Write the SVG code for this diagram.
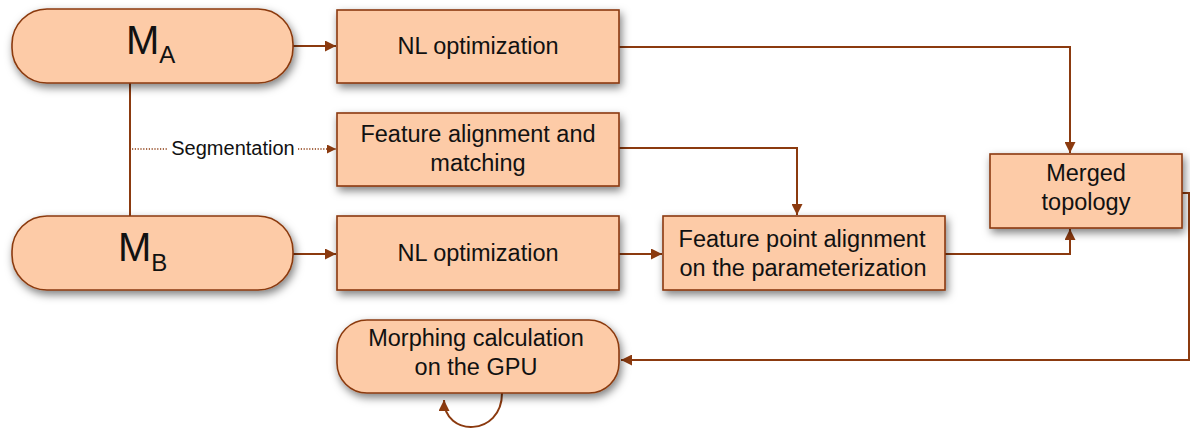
<svg xmlns="http://www.w3.org/2000/svg" width="1190" height="432" viewBox="0 0 1190 432">
<defs>
<filter id="sh" x="-10%" y="-20%" width="125%" height="150%">
<feDropShadow dx="2" dy="4" stdDeviation="4.5" flood-color="#000" flood-opacity="0.5"/>
</filter>
<marker id="ah" markerUnits="userSpaceOnUse" markerWidth="11" markerHeight="11" refX="10" refY="5" orient="auto" viewBox="0 0 10 10">
<path d="M0,0 L10,5 L0,10 z" fill="#8B3A0F"/>
</marker>
<marker id="ahs" markerUnits="userSpaceOnUse" markerWidth="9" markerHeight="9" refX="10" refY="5" orient="auto" viewBox="0 0 10 10">
<path d="M0,0 L10,5 L0,10 z" fill="#8B3A0F"/>
</marker>
<style>
.box{fill:#FDCBA7;stroke:#8B3A0F;stroke-width:1.6;filter:url(#sh)}
.t{font-family:"Liberation Sans",Arial,sans-serif;font-size:23.5px;fill:#111;text-anchor:middle}
.big{font-family:"Liberation Sans",Arial,sans-serif;fill:#111}
.c{fill:none;stroke:#8B3A0F;stroke-width:2}
.d{fill:none;stroke:#8B3A0F;stroke-width:1.3;stroke-dasharray:1.2 1.6}
</style>
</defs>
<g id="connectors">
<path class="c" d="M130,82 V216"/>
<path class="c" d="M293,46 H336" marker-end="url(#ah)"/>
<path class="c" d="M293,254 H336" marker-end="url(#ah)"/>
<path class="d" d="M132,149 H168"/>
<path class="d" d="M298,149 H336" marker-end="url(#ahs)"/>
<path class="c" d="M619,254 H662" marker-end="url(#ah)"/>
<path class="c" d="M619,148 H797 V215" marker-end="url(#ah)"/>
<path class="c" d="M619,47 H1070 V153" marker-end="url(#ah)"/>
<path class="c" d="M945,254 H1070 V229" marker-end="url(#ah)"/>
<path class="c" d="M1182,193 H1189 V360 H621" marker-end="url(#ah)"/>
<path class="c" d="M502,393 C502,437 444,437 444,400" marker-end="url(#ah)"/>
<text x="233" y="155" style="font-family:'Liberation Sans',Arial,sans-serif;font-size:20px;fill:#111;text-anchor:middle">Segmentation</text>
</g>
<g id="MA">
<rect class="box" x="12" y="9" width="281" height="74" rx="35" ry="35"/>
<text class="big" x="126" y="54" font-size="40">M<tspan font-size="24" dy="9">A</tspan></text>
</g>
<g id="MB">
<rect class="box" x="12" y="216" width="281" height="74" rx="35" ry="35"/>
<text class="big" x="118" y="261" font-size="40">M<tspan font-size="24" dy="10">B</tspan></text>
</g>
<g id="nlA">
<rect class="box" x="337" y="10" width="282" height="73"/>
<text class="t" x="478" y="54">NL optimization</text>
</g>
<g id="featAlign">
<rect class="box" x="337" y="113" width="282" height="73"/>
<text class="t" x="478" y="142">Feature alignment and</text>
<text class="t" x="478" y="171">matching</text>
</g>
<g id="nlB">
<rect class="box" x="337" y="216" width="282" height="74"/>
<text class="t" x="478" y="261">NL optimization</text>
</g>
<g id="featPoint">
<rect class="box" x="663" y="216" width="282" height="74"/>
<text class="t" x="802" y="247">Feature point alignment</text>
<text class="t" x="803" y="276">on the parameterization</text>
</g>
<g id="merged">
<rect class="box" x="990" y="154" width="192" height="74"/>
<text class="t" x="1086" y="181">Merged</text>
<text class="t" x="1086" y="210">topology</text>
</g>
<g id="morph">
<rect class="box" x="337" y="320" width="282" height="73" rx="30" ry="30"/>
<text class="t" x="476" y="346">Morphing calculation</text>
<text class="t" x="476" y="375">on the GPU</text>
</g>
</svg>
